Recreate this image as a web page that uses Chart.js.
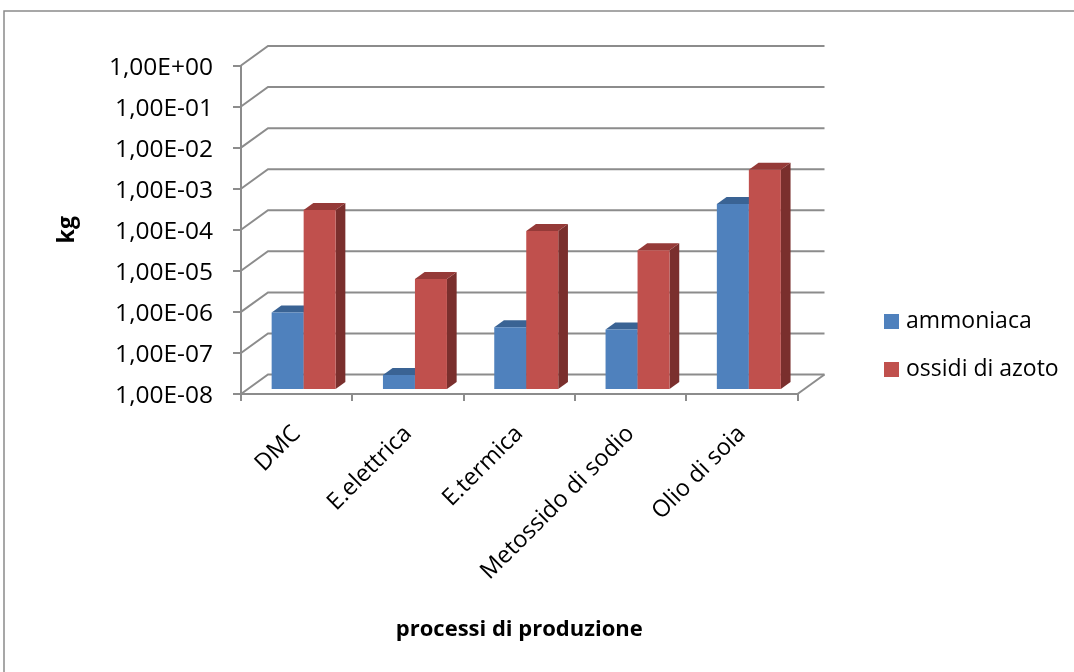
<!DOCTYPE html>
<html>
<head>
<meta charset="utf-8">
<script src="https://cdn.jsdelivr.net/npm/chart.js@4/dist/chart.umd.min.js"></script>
<style>
  html, body { margin: 0; padding: 0; background: #fff; }
  canvas { display: block; }
</style>
</head>
<body>
<canvas id="c" width="1074" height="672"></canvas>
<script>
// Emissions per production process (kg), log scale
const categories = ['DMC', 'E.elettrica', 'E.termica', 'Metossido di sodio', 'Olio di soia'];
const ammoniaca = [7.3e-7, 2.2e-8, 3.2e-7, 2.8e-7, 3.2e-4];
const ossidiDiAzoto = [2.3e-4, 4.8e-6, 7.0e-5, 2.4e-5, 2.2e-3];
const yTickValues = [1e-8, 1e-7, 1e-6, 1e-5, 1e-4, 1e-3, 1e-2, 1e-1, 1];
const yTickLabels = ['1,00E-08', '1,00E-07', '1,00E-06', '1,00E-05', '1,00E-04',
                     '1,00E-03', '1,00E-02', '1,00E-01', '1,00E+00'];
const seriesNames = ['ammoniaca', 'ossidi di azoto'];

const FONT = "'Open Sans', sans-serif";
const GRID = '#8c8c8c';

// pseudo-3D geometry: wall depth, bar front offset and bar depth
const WALL = { dx: 27, dy: -19.5 };
const BAR_SHIFT = { dx: 7, dy: -5 };
const BAR_DEPTH = { dx: 9.7, dy: -7 };

const shades = [
  { front: '#4F81BD', top: '#3A6394', side: '#2F5078' },
  { front: '#C0504D', top: '#953A38', side: '#7A2F2D' }
];

Chart.defaults.font.family = FONT;
Chart.defaults.color = '#000';

const frame = {
  id: 'frame',
  beforeDraw(chart) {
    const ctx = chart.ctx;
    ctx.save();
    ctx.strokeStyle = '#8a8a8a';
    ctx.lineWidth = 1.5;
    ctx.beginPath();
    ctx.moveTo(4, chart.height);
    ctx.lineTo(4, 11);
    ctx.lineTo(chart.width, 11);
    ctx.stroke();
    ctx.restore();
  }
};

const box3d = {
  id: 'box3d',
  beforeDatasetsDraw(chart) {
    const ctx = chart.ctx;
    const area = chart.chartArea;
    const ys = chart.scales.y;

    // back wall, side wall and floor lines
    ctx.save();
    ctx.strokeStyle = GRID;
    ctx.lineWidth = 2;
    ys.ticks.forEach(t => {
      const py = ys.getPixelForValue(t.value);
      ctx.beginPath();
      ctx.moveTo(area.left, py);
      ctx.lineTo(area.left + WALL.dx, py + WALL.dy);
      ctx.lineTo(area.right + WALL.dx, py + WALL.dy);
      ctx.stroke();
    });
    ctx.beginPath();
    ctx.moveTo(area.right, area.bottom);
    ctx.lineTo(area.right + WALL.dx, area.bottom + WALL.dy);
    ctx.stroke();
    ctx.restore();

    // bars: side and top faces, then the library's front face
    ctx.save();
    ctx.translate(BAR_SHIFT.dx, BAR_SHIFT.dy);
    const n = chart.data.labels.length;
    for (let i = 0; i < n; i++) {
      chart.data.datasets.forEach((ds, d) => {
        const el = chart.getDatasetMeta(d).data[i];
        const p = el.getProps(['x', 'y', 'base', 'width'], true);
        const l = p.x - p.width / 2, r = p.x + p.width / 2;
        const c = shades[d];
        ctx.fillStyle = c.side;
        ctx.beginPath();
        ctx.moveTo(r, p.y);
        ctx.lineTo(r + BAR_DEPTH.dx, p.y + BAR_DEPTH.dy);
        ctx.lineTo(r + BAR_DEPTH.dx, p.base + BAR_DEPTH.dy);
        ctx.lineTo(r, p.base);
        ctx.closePath();
        ctx.fill();
        ctx.fillStyle = c.top;
        ctx.beginPath();
        ctx.moveTo(l, p.y);
        ctx.lineTo(l + BAR_DEPTH.dx, p.y + BAR_DEPTH.dy);
        ctx.lineTo(r + BAR_DEPTH.dx, p.y + BAR_DEPTH.dy);
        ctx.lineTo(r, p.y);
        ctx.closePath();
        ctx.fill();
        el.draw(ctx, area);
      });
    }
    ctx.restore();
    return false;
  }
};

const sideLegend = {
  id: 'sideLegend',
  afterDraw(chart) {
    const ctx = chart.ctx;
    ctx.save();
    ctx.font = '23px ' + FONT;
    ctx.textBaseline = 'middle';
    ctx.textAlign = 'left';
    chart.data.datasets.forEach((ds, d) => {
      const cy = 321.5 + d * 48;
      ctx.fillStyle = ds.backgroundColor;
      ctx.fillRect(884, cy - 7.5, 15, 15);
      ctx.fillStyle = '#000';
      ctx.fillText(ds.label, 906, cy);
    });
    ctx.restore();
  }
};

new Chart(document.getElementById('c'), {
  type: 'bar',
  data: {
    labels: categories,
    datasets: [
      { label: seriesNames[0], data: ammoniaca, backgroundColor: shades[0].front, borderWidth: 0 },
      { label: seriesNames[1], data: ossidiDiAzoto, backgroundColor: shades[1].front, borderWidth: 0 }
    ]
  },
  options: {
    responsive: false,
    animation: false,
    events: [],
    layout: { padding: { left: 0, top: 65.5, right: 276.5, bottom: 0 } },
    datasets: { bar: { barPercentage: 1, categoryPercentage: 0.575 } },
    plugins: { legend: { display: false }, tooltip: { enabled: false } },
    scales: {
      x: {
        grid: { display: true, drawOnChartArea: false, drawTicks: true, tickLength: 7, color: GRID, lineWidth: 2 },
        border: { display: true, color: GRID, width: 2 },
        ticks: { minRotation: 45, maxRotation: 45, autoSkip: false, padding: 19, font: { size: 23.5 }, color: '#000' },
        title: { display: true, text: 'processi di produzione', font: { size: 22, weight: 'bold' }, color: '#000', padding: { top: 0, bottom: 29 } },
        afterFit(scale) { scale.height = 672 - 394; }
      },
      y: {
        type: 'logarithmic',
        min: 1e-8,
        max: 1,
        afterBuildTicks(scale) { scale.ticks = yTickValues.map(v => ({ value: v })); },
        grid: { display: true, drawOnChartArea: false, drawTicks: true, tickLength: 8, color: GRID, lineWidth: 2 },
        border: { display: true, color: GRID, width: 2 },
        ticks: {
          padding: 20,
          labelOffset: 2.5,
          font: { size: 24.5 },
          color: '#000',
          callback: (v, i) => yTickLabels[i]
        },
        title: { display: true, text: 'kg', font: { size: 23, weight: 'bold' }, color: '#000', padding: { top: 54, bottom: 0 } },
        afterFit(scale) { scale.width = 241; }
      }
    }
  },
  plugins: [frame, box3d, sideLegend]
});
</script>
</body>
</html>
